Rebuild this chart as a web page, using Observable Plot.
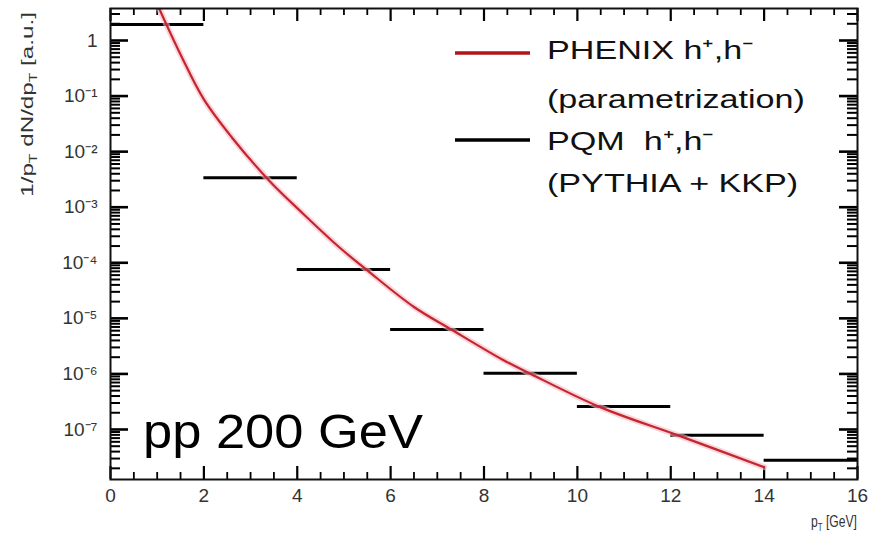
<!DOCTYPE html>
<html><head><meta charset="utf-8">
<script src="https://cdn.jsdelivr.net/npm/d3@7"></script>
<script src="https://cdn.jsdelivr.net/npm/@observablehq/plot@0.6"></script>
<style>body{margin:0;background:#fff;} svg{display:block;} </style>
</head><body><div id="chart"></div>
<script>
// PQM histogram (PYTHIA + KKP), bins in pT [GeV]
const binLow  = [0, 2, 4, 6, 8, 10, 12, 14];
const binHigh = [2, 4, 6, 8, 10, 12, 14, 16];
const pqmYield = [1.94, 3.4e-3, 7.6e-5, 6.3e-6, 1.03e-6, 2.6e-7, 7.9e-8, 2.8e-8];

// PHENIX parametrization, points
const phenixPt    = [1.0, 1.5, 2.0, 2.6, 3.4, 4.1, 4.9, 5.5, 6.5, 7.3, 8.4, 9.0, 10.5, 12.2, 14.0];
const phenixYield = [4.5, 0.56, 0.087, 0.018, 3.0e-3, 8.0e-4, 1.9e-4, 7.3e-5, 1.6e-5, 6.3e-6, 1.8e-6, 1.0e-6, 2.5e-7, 7.6e-8, 2.1e-8];

// axes
const xTickValues = [0, 2, 4, 6, 8, 10, 12, 14, 16];
const xTickLabels = ["0", "2", "4", "6", "8", "10", "12", "14", "16"];
const yTickValues = [1, 1e-1, 1e-2, 1e-3, 1e-4, 1e-5, 1e-6, 1e-7];
const yTickLabels = ["1", "10⁻¹", "10⁻²", "10⁻³", "10⁻⁴", "10⁻⁵", "10⁻⁶", "10⁻⁷"];

const legendLine1 = ["PHENIX h⁺,h⁻", "(parametrization)"];
const legendLine2 = ["PQM  h⁺,h⁻", "(PYTHIA + KKP)"];
const annotation = "pp 200 GeV";

const pqm = binLow.map((lo, i) => ({lo, hi: binHigh[i], v: pqmYield[i]}));
const phenix = phenixPt.map((pt, i) => ({pt, v: phenixYield[i]}));

const W = 880, H = 533, mT = 8, mR = 23, mB = 54, mL = 110;
const plotW = W - mL - mR, plotH = H - mT - mB;
const xDomain = [0, 16];
const yLog = [-7.9, 0.576];
const yDomain = yLog.map(e => Math.pow(10, e));
const gevPerPx = 16 / plotW, decPerPx = (yLog[1] - yLog[0]) / plotH;

const yMinor = [];
for (let e = -8; e <= 0; e++) for (let k = 2; k <= 9; k++) {
  const v = k * Math.pow(10, e);
  if (v >= yDomain[0] && v <= yDomain[1]) yMinor.push(v);
}
const xMinor = [];
for (let v = 0.5; v < 16; v += 0.5) if (v % 2 !== 0) xMinor.push(v);
const yLabelMap = new Map(yTickValues.map((v, i) => [v, yTickLabels[i]]));
const xLabelMap = new Map(xTickValues.map((v, i) => [v, xTickLabels[i]]));

// inward tick segments on all four sides (length converted to scale units)
const ySeg = (vals, len) => vals.flatMap(v => [
  {v, a: 0, b: len * gevPerPx}, {v, a: 16 - len * gevPerPx, b: 16}]);
const xSeg = (vals, len) => vals.flatMap(v => [
  {v, a: yDomain[0], b: yDomain[0] * Math.pow(10, len * decPerPx)},
  {v, a: yDomain[1] / Math.pow(10, len * decPerPx), b: yDomain[1]}]);
const yMajSeg = ySeg(yTickValues, 18), yMinSeg = ySeg(yMinor, 10);
const xMajSeg = xSeg(xTickValues, 13), xMinSeg = xSeg(xMinor, 7);

const axisColor = "#111";
const plot = Plot.plot({
  width: W, height: H,
  marginTop: mT, marginRight: mR, marginBottom: mB, marginLeft: mL,
  style: {fontFamily: "'Liberation Sans', Arial, sans-serif", background: "#fff", fontSize: "19px", color: "#333"},
  x: {domain: xDomain},
  y: {type: "log", domain: yDomain},
  marks: [
    Plot.axisY({anchor: "left", ticks: yTickValues, tickSize: 0, tickPadding: 13, tickFormat: d => yLabelMap.get(d), label: null}),
    Plot.axisX({anchor: "bottom", ticks: xTickValues, tickSize: 0, tickPadding: 9, tickFormat: d => xLabelMap.get(d), label: null}),
    Plot.ruleY(yMajSeg, {y: "v", x1: "a", x2: "b", stroke: "#000", strokeWidth: 2.6}),
    Plot.ruleY(yMinSeg, {y: "v", x1: "a", x2: "b", stroke: "#000", strokeWidth: 2}),
    Plot.ruleX(xMajSeg, {x: "v", y1: "a", y2: "b", stroke: "#000", strokeWidth: 2.2}),
    Plot.ruleX(xMinSeg, {x: "v", y1: "a", y2: "b", stroke: "#000", strokeWidth: 1.8}),
    Plot.ruleY(pqm, {x1: "lo", x2: "hi", y: "v", stroke: "#000", strokeWidth: 3}),
    Plot.line(phenix, {x: "pt", y: "v", stroke: "#f6b9c6", strokeWidth: 6, strokeOpacity: 0.6, curve: "catmull-rom", clip: true}),
    Plot.line(phenix, {x: "pt", y: "v", stroke: "#c4262e", strokeWidth: 2.2, curve: "catmull-rom", clip: true}),
    Plot.frame({stroke: axisColor, strokeWidth: 2})
  ]
});
document.getElementById("chart").appendChild(plot);

const svg = d3.select(plot);
const font = "'Liberation Sans', Arial, sans-serif";

// axis titles
const yt = svg.append("text")
  .attr("text-anchor", "end").attr("font-family", font).attr("font-size", 17).attr("fill", "#333");
yt.append("tspan").text("1/p");
yt.append("tspan").attr("font-size", 11).attr("dy", 4).text("T");
yt.append("tspan").attr("dy", -4).text(" dN/dp");
yt.append("tspan").attr("font-size", 11).attr("dy", 4).text("T");
yt.append("tspan").attr("dy", -4).text(" [a.u.]");
const ytLen = yt.node().getComputedTextLength();
yt.attr("transform", `translate(33,12) rotate(-90) scale(${185 / ytLen},1)`);

const xt = svg.append("text")
  .attr("text-anchor", "end").attr("font-family", font).attr("font-size", 17).attr("fill", "#333");
xt.append("tspan").text("p");
xt.append("tspan").attr("font-size", 11).attr("dy", 4).text("T");
xt.append("tspan").attr("dy", -4).text(" [GeV]");
const xtLen = xt.node().getComputedTextLength();
xt.attr("transform", `translate(857,527) scale(${46 / xtLen},1)`);

// legend
const lg = svg.append("g");
lg.append("line").attr("x1", 455).attr("x2", 530).attr("y1", 53).attr("y2", 53).attr("stroke", "#b3141c").attr("stroke-width", 3.5);
lg.append("line").attr("x1", 455).attr("x2", 530).attr("y1", 140).attr("y2", 140).attr("stroke", "#000").attr("stroke-width", 3.5);
const rows = [[legendLine1[0], 59], [legendLine1[1], 108], [legendLine2[0], 150], [legendLine2[1], 192]];
const texts = rows.map(([t, y]) => lg.append("text")
  .attr("font-family", font).attr("font-size", 26).attr("fill", "#111").attr("text-anchor", "start")
  .attr("transform", `translate(547,${y})`).text(t));
const natural = texts[1].node().getComputedTextLength();
const sx = 258 / natural;
rows.forEach(([t, y], i) => texts[i].attr("transform", `translate(547,${y}) scale(${sx},1)`));

// annotation
const an = svg.append("text").attr("font-family", font).attr("font-size", 48).attr("fill", "#000")
  .attr("text-anchor", "start").text(annotation);
const anW = an.node().getComputedTextLength();
an.attr("transform", `translate(143,448) scale(${280 / anW},1)`);
</script>
</body></html>
